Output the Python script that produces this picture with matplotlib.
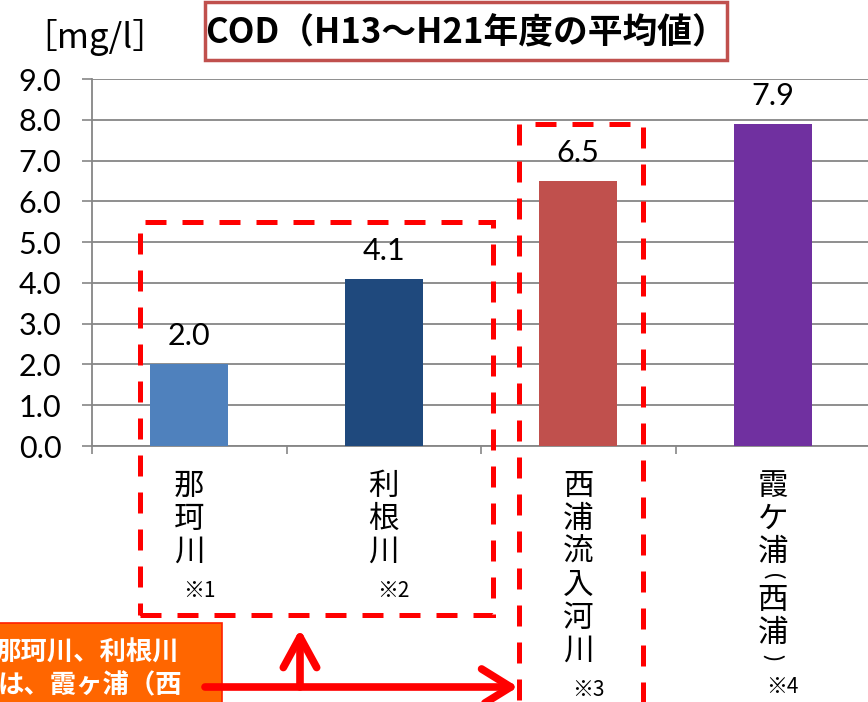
import numpy as np
import matplotlib
matplotlib.use("Agg")
import matplotlib.pyplot as plt
from matplotlib.patches import Rectangle, FancyArrowPatch

# ---- data ----
categories = ['那珂川', '利根川', '西浦流入河川', '霞ケ浦（西浦）']
notes = ['※1', '※2', '※3', '※4']
values = [2.0, 4.1, 6.5, 7.9]
bar_colors = ['#4F81BD', '#1F497D', '#C0504D', '#7030A0']
yticks = [0.0, 1.0, 2.0, 3.0, 4.0, 5.0, 6.0, 7.0, 8.0, 9.0]
title = 'COD（H13～H21年度の平均値）'
unit = '［mg/l］'
callout = ['那珂川、利根川', 'は、霞ヶ浦（西']

JP = ['Noto Sans CJK JP', 'DejaVu Sans']
NUM = ['Lato', 'Noto Sans CJK JP', 'DejaVu Sans']

W, H = 868, 702
fig = plt.figure(figsize=(W / 100, H / 100), dpi=100)
fig.patch.set_facecolor('white')
P = 72 / 100  # pixels -> points


def fx(px):
    return px / W


def fy(py):
    return 1 - py / H


ax = fig.add_axes([fx(92), fy(446), (870 - 92) / W, (446 - 79) / H])
x = np.arange(len(values))
ax.bar(x, values, width=0.4, color=bar_colors, zorder=3)
ax.set_xlim(-0.5, 3.5)
ax.set_ylim(0, 9)
ax.set_yticks(yticks)
ax.set_yticklabels([f'{v:.1f}' for v in yticks], family=NUM, fontsize=22)
ax.tick_params(axis='y', length=7, width=1.2, color='#868686', pad=15)
ax.grid(axis='y', color='#868686', lw=1.3, zorder=0)
ax.set_xticks(x)
ax.set_xticklabels([''] * len(x))
ax.tick_params(axis='x', which='major', length=0)
ax.set_xticks(np.arange(len(values) + 1) - 0.5, minor=True)
ax.tick_params(axis='x', which='minor', length=6, width=1.2, color='#868686')
for s in ['top', 'right']:
    ax.spines[s].set_visible(False)
ax.spines['left'].set_color('#868686')
ax.spines['left'].set_linewidth(1.3)
ax.spines['bottom'].set_color('#868686')
ax.spines['bottom'].set_linewidth(1.3)

# value labels
for xi, v in zip(x, values):
    ax.annotate(f'{v:.1f}', xy=(xi, v), xytext=(0, 19 * P), textcoords='offset points',
                ha='center', va='baseline', fontsize=22, family=NUM)

# vertical category labels (parentheses turned to vertical form)
parens = {'（': '(', '）': ')'}
for xi, lab, note in zip(x, categories, notes):
    top = 24
    for ch in lab:
        h = 15 if ch in parens else 33
        c = top + h / 2
        if ch in parens:
            ax.annotate(parens[ch], xy=(xi, 0), xycoords=ax.get_xaxis_transform(),
                        xytext=(0, -c * P), textcoords='offset points', ha='center', va='center',
                        rotation=-90, rotation_mode='default', fontsize=17, family=NUM)
        else:
            ax.annotate(ch, xy=(xi, 0), xycoords=ax.get_xaxis_transform(),
                        xytext=(0, -c * P), textcoords='offset points', ha='center', va='center',
                        fontsize=22, family=JP)
        top += h
    ax.annotate(note, xy=(xi, 0), xycoords=ax.get_xaxis_transform(),
                xytext=(10 * P, -(top + 22) * P), textcoords='offset points', ha='center',
                va='center', fontsize=15, family=JP)

# unit label
fig.text(fx(95), fy(38), unit, ha='center', va='center', fontsize=25, family=JP)

# title box
fig.add_artist(Rectangle((fx(205), fy(60)), (727 - 205) / W, 58 / H, transform=fig.transFigure,
                         facecolor='white', edgecolor='#C0504D', lw=2.5))
fig.text(fx(466), fy(33), title, ha='center', va='center', fontsize=25, fontweight='bold', family=JP)

# red dashed boxes
dash = (0, (4.2, 3.2))
fig.add_artist(Rectangle((fx(140), fy(615)), (493 - 140) / W, (615 - 222) / H, transform=fig.transFigure,
                         fill=False, edgecolor='#FF0000', lw=3.6, linestyle=dash, zorder=5))
fig.add_artist(Rectangle((fx(519), fy(720)), (643 - 519) / W, (720 - 124) / H, transform=fig.transFigure,
                         fill=False, edgecolor='#FF0000', lw=3.6, linestyle=dash, zorder=5))

# orange callout
fig.add_artist(Rectangle((fx(-5), fy(720)), (222 + 5) / W, (720 - 623) / H, transform=fig.transFigure,
                         facecolor='#FF6600', edgecolor='#FF2000', lw=1.2, zorder=5))
fig.text(fx(-6), fy(653), callout[0], ha='left', va='center', fontsize=19, fontweight='bold',
         color='white', family=JP, zorder=6)
fig.text(fx(-2), fy(686), callout[1], ha='left', va='center', fontsize=19, fontweight='bold',
         color='white', family=JP, zorder=6)

# arrows
fig.add_artist(FancyArrowPatch((fx(205), fy(687)), (fx(518), fy(687)), transform=fig.transFigure,
                               arrowstyle='->,head_length=21,head_width=13', mutation_scale=1,
                               color='#FF0000', lw=5.5, zorder=6, shrinkA=0, shrinkB=0))
fig.add_artist(FancyArrowPatch((fx(300), fy(687)), (fx(300), fy(629)), transform=fig.transFigure,
                               arrowstyle='->,head_length=22,head_width=12', mutation_scale=1,
                               color='#FF0000', lw=5.5, zorder=6, shrinkA=0, shrinkB=0))

fig.savefig('out.png', dpi=100)
